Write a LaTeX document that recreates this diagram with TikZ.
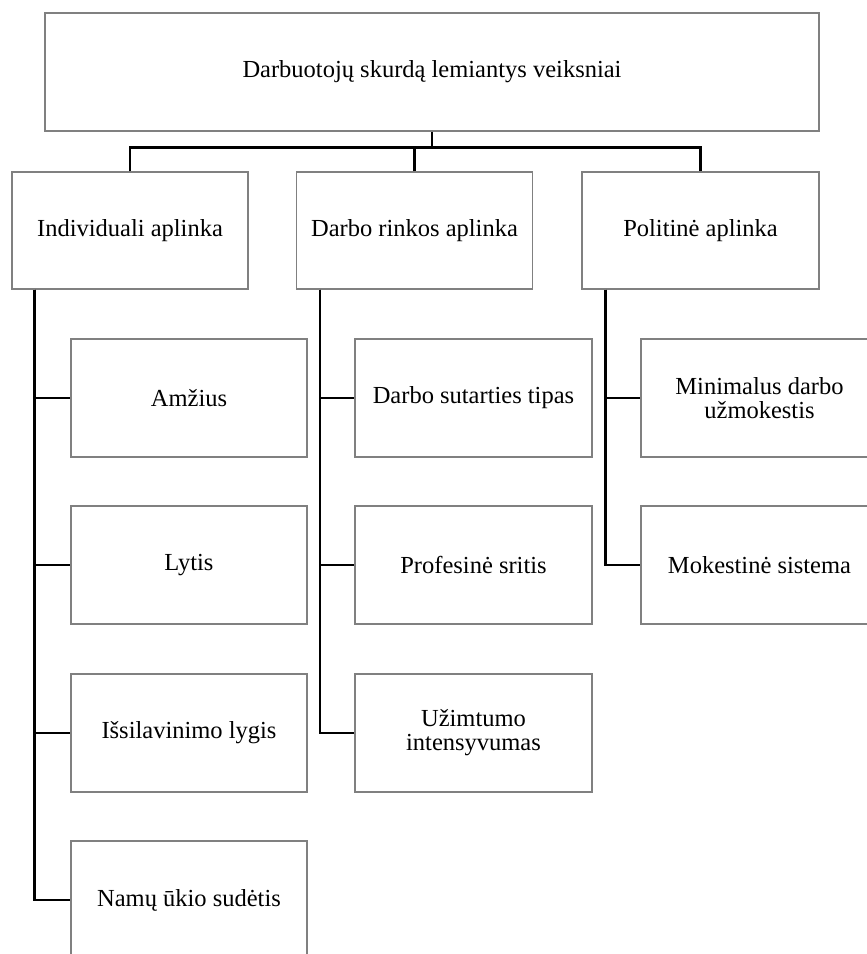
\documentclass[tikz,border=0pt]{standalone}
\usepackage{fontspec}
\setmainfont{Liberation Serif}
\definecolor{boxgray}{HTML}{808080}
\tikzset{
  box/.style={draw=boxgray, line width=1.2pt, rectangle, fill=white,
    inner sep=2pt, align=center, font=\fontsize{24.5}{24}\selectfont},
  topbox/.style={box, minimum width=774pt, minimum height=118pt},
  midbox/.style={box, minimum width=236pt, minimum height=117pt},
  leafbox/.style={box, minimum width=237pt, minimum height=118pt},
  link/.style={draw=black, line width=2.7pt}
}
\begin{document}
\begin{tikzpicture}[x=1pt,y=-1pt]
\useasboundingbox (0,0) rectangle (867,954);
\clip (0,0) rectangle (867,954);
\fill[white] (0,0) rectangle (867,954);

% top
\node[topbox] (top) at (432,72) {Darbuotojų skurdą lemiantys veiksniai};

% second row
\node[midbox] (ind) at (130,230.5) {Individuali aplinka};
\node[midbox] (dar) at (414.5,230.5) {Darbo rinkos aplinka};
\node[midbox, minimum width=237pt] (pol) at (700.5,230.5) {Politinė aplinka};

% leaves: Individuali
\node[leafbox, minimum width=236pt] (i1) at (189,398) {Amžius};
\node[leafbox, minimum width=236pt] (i2) at (189,565) {Lytis};
\node[leafbox, minimum width=236pt] (i3) at (189,733) {Išsilavinimo lygis};
\node[leafbox, minimum width=236pt] (i4) at (189,900) {Namų ūkio sudėtis};

% leaves: Darbo rinkos
\node[leafbox] (d1) at (473.5,398) {Darbo sutarties tipas};
\node[leafbox] (d2) at (473.5,565) {Profesinė sritis};
\node[leafbox] (d3) at (473.5,733) {Užimtumo\\intensyvumas};

% leaves: Politinė
\node[leafbox] (p1) at (759.5,398) {Minimalus darbo\\užmokestis};
\node[leafbox] (p2) at (759.5,565) {Mokestinė sistema};

% top connectors
\coordinate (bus) at ([yshift=-16pt]top.south);
\draw[link] (top.south) -- (bus);
\draw[link] (ind.north) |- (bus) -| (pol.north);
\draw[link] (dar.north) -- (dar.north |- bus);

% trunks
\foreach \c in {i1,i2,i3,i4}{
  \draw[link] ([xshift=23pt]ind.south west) |- (\c.west);
}
\foreach \c in {d1,d2,d3}{
  \draw[link] ([xshift=24pt]dar.south west) |- (\c.west);
}
\foreach \c in {p1,p2}{
  \draw[link] ([xshift=24pt]pol.south west) |- (\c.west);
}
\end{tikzpicture}
\end{document}
